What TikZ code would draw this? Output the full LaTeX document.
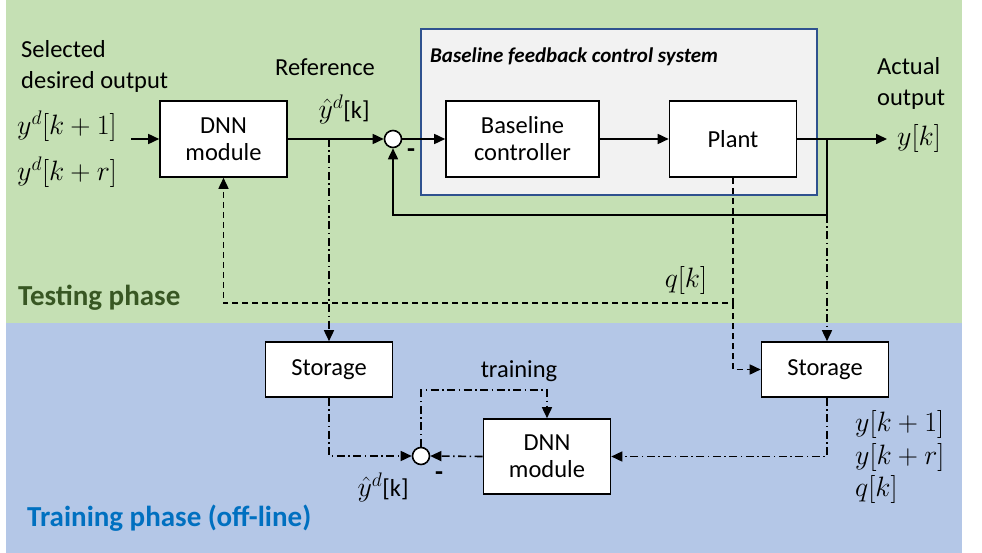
\documentclass[tikz,border=0pt]{standalone}
\usepackage{fix-cm}
\usepackage{fontspec}
\setmainfont{Carlito}
\usetikzlibrary{arrows.meta,calc}
\definecolor{bggreen}{RGB}{197,224,180}
\definecolor{bgblue}{RGB}{180,199,231}
\definecolor{boxgray}{RGB}{242,242,242}
\definecolor{boxblue}{RGB}{47,82,143}
\definecolor{testgreen}{RGB}{56,87,35}
\definecolor{trainblue}{RGB}{0,112,192}
\begin{document}
\begin{tikzpicture}[x=1pt,y=-1pt,
  font=\fontsize{24.5}{27}\selectfont,
  blk/.style={draw=black, line width=1.6pt, fill=white, inner sep=0pt, align=center},
  sumj/.style={circle, draw=black, line width=1.6pt, fill=white, minimum size=17pt, inner sep=0pt},
  tip/.style={-{Triangle[length=11pt,width=10pt]}},
  sig/.style={line width=1.6pt, tip},
  dsh/.style={line width=1.6pt, dash pattern=on 6pt off 4pt},
  dshdot/.style={line width=1.6pt, dash pattern=on 8pt off 3.5pt on 1.5pt off 3.5pt},
  lbl/.style={inner sep=0pt, align=left, font=\fontsize{24.5}{31}\selectfont},
  mth/.style={inner sep=0pt, font=\fontsize{28}{31}\selectfont},
  minus/.style={inner sep=0pt, font=\fontsize{26}{28}\selectfont\bfseries}
]
\useasboundingbox (0,0) rectangle (982,553);
\fill[bggreen] (6,0) rectangle (962,323);
\fill[bgblue] (6,323) rectangle (962,553);

% baseline system box
\node[draw=boxblue, line width=1.2pt, fill=boxgray, minimum width=396pt, minimum height=166pt, inner sep=0pt] (base) at (619,112) {};
\node[anchor=west, inner sep=0pt, font=\fontsize{21}{24}\selectfont\bfseries\itshape] (title) at (430,57) {Baseline feedback control system};

% blocks
\node[blk, minimum width=127pt, minimum height=76pt] (dnn1) at (223.5,139) {DNN\\module};
\node[sumj] (sum1) at (393,139) {};
\node[blk, minimum width=153pt, minimum height=76pt] (ctrl) at (522.5,139) {Baseline\\controller};
\node[blk, minimum width=127pt, minimum height=76pt] (plant) at (733,139) {Plant};
\node[blk, minimum width=127pt, minimum height=55pt] (stor1) at (329,369.5) {Storage};
\node[blk, minimum width=127pt, minimum height=55pt] (stor2) at (825,369.5) {Storage};
\node[blk, minimum width=127pt, minimum height=75pt] (dnn2) at (547,456.5) {DNN\\module};
\node[sumj] (sum2) at (421,456) {};

% coordinates
\coordinate (in) at (131,139);
\coordinate (br0) at (329,139);
\coordinate (br1) at (827,139);
\coordinate (out) at (887,139);
\coordinate (fb) at (827,215);
\coordinate (q1) at (733,303);

% top loop
\draw[sig] (in) -- (dnn1.west);
\draw[sig] (dnn1.east) -- (sum1.west);
\draw[sig] (sum1.east) -- (ctrl.west);
\draw[sig] (ctrl.east) -- (plant.west);
\draw[sig] (plant.east) -- (out);
\draw[sig] (br1) -- (fb) -| (sum1.south);

% dashed / dash-dot links
\draw[dshdot, tip] (br0) -- (stor1.north);
\draw[dshdot, tip] (fb) -- (fb |- stor2.north);
\draw[dsh, tip] (plant.south) -- (q1) -| (dnn1.south);
\draw[dsh, tip] (q1) |- (stor2.west);

% training loop
\draw[dshdot, tip] (stor1.south) |- (sum2.west);
\draw[dshdot, tip] (dnn2.west) -- (sum2.east);
\draw[dshdot, tip] (sum2.north) |- ($(dnn2.north)+(0,-28)$) -- (dnn2.north);
\draw[dshdot, tip] (stor2.south -| fb) |- (dnn2.east);

% labels
\node[lbl, anchor=west] (sel) at (21,66) {Selected\\desired output};
\node[mth, anchor=west] (yd1) at (17,126) {$y^d[k+1]$};
\node[mth, anchor=west] (ydr) at (17,172) {$y^d[k+r]$};
\node[lbl] (refl) at (325,67) {Reference};
\node[lbl] (yhat1) at (344,109) {{\fontsize{28}{31}\selectfont$\hat{y}^d$}[k]};
\node[minus] (m1) at (411,153) {-};
\node[lbl, anchor=west] (act) at (877,83) {Actual\\output};
\node[mth, anchor=west] (yk) at (897,139) {$y[k]$};
\node[mth] (qk) at (686,281) {$q[k]$};
\node[lbl] (trn) at (519,371) {training};
\node[minus] (m2) at (439,476) {-};
\node[lbl] (yhat2) at (383,487) {{\fontsize{28}{31}\selectfont$\hat{y}^d$}[k]};
\node[mth, anchor=west] (ys1) at (855,424) {$y[k+1]$};
\node[mth, anchor=west] (ysr) at (855,457) {$y[k+r]$};
\node[mth, anchor=west] (qs) at (855,489) {$q[k]$};
\node[anchor=west, inner sep=0pt, font=\fontsize{29}{32}\selectfont\bfseries, text=testgreen] (tp) at (18,298) {Testing phase};
\node[anchor=west, inner sep=0pt, font=\fontsize{29}{32}\selectfont\bfseries, text=trainblue] (trp) at (27,518) {Training phase (off-line)};
\end{tikzpicture}
\end{document}
